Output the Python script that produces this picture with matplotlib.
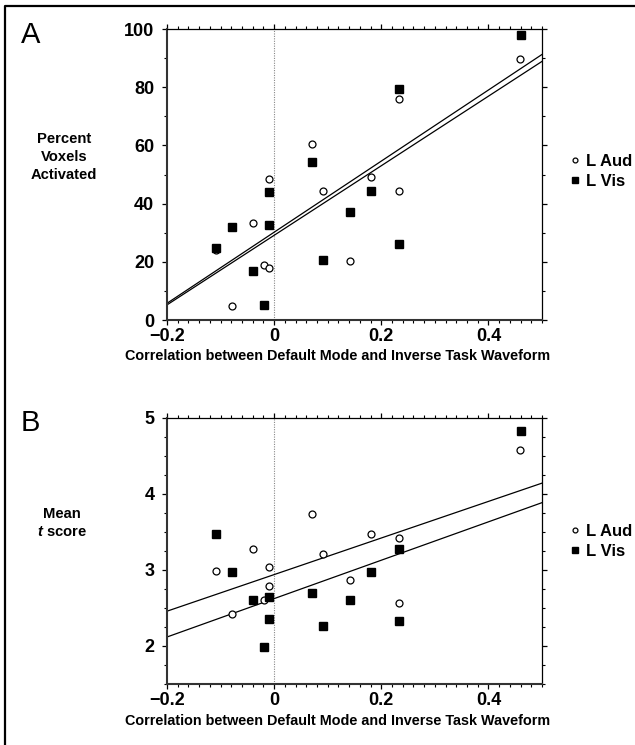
import numpy as np
import matplotlib
matplotlib.use("Agg")
import matplotlib.pyplot as plt
from matplotlib.ticker import MultipleLocator, FixedLocator, FixedFormatter
from matplotlib.lines import Line2D

plt.rcParams['font.family'] = ['Liberation Sans', 'DejaVu Sans']
plt.rcParams['mathtext.fontset'] = 'custom'
plt.rcParams['mathtext.it'] = 'Liberation Sans:italic:bold'
plt.rcParams['mathtext.rm'] = 'Liberation Sans:bold'

# ---- data ----
corr = [-0.109, -0.079, -0.039, -0.019, -0.009, -0.009, 0.071, 0.091, 0.142, 0.181, 0.2325, 0.2325, 0.459]
corr_vis = [-0.109, -0.079, -0.039, -0.019, -0.009, -0.009, 0.071, 0.091, 0.142, 0.181, 0.2325, 0.2325, 0.46]

pct_aud = [23.9, 4.8, 33.4, 18.9, 18.0, 48.5, 60.4, 44.4, 20.4, 49.3, 76.1, 44.4, 89.6]
pct_vis = [24.9, 32.0, 17.0, 5.2, 44.0, 32.7, 54.2, 20.5, 37.0, 44.4, 79.4, 26.0, 98.0]

t_aud = [2.99, 2.42, 3.27, 2.60, 3.04, 2.79, 3.74, 3.21, 2.87, 3.48, 3.42, 2.56, 4.58]
t_vis = [3.48, 2.97, 2.60, 1.99, 2.64, 2.35, 2.70, 2.26, 2.60, 2.97, 3.28, 2.33, 4.83]

x_ticks = [-0.2, 0, 0.2, 0.4]
x_ticklabels = ['\u22120.2', '0', '0.2', '0.4']
yA_ticks = [0, 20, 40, 60, 80, 100]
yB_ticks = [2, 3, 4, 5]
series_names = ['L Aud', 'L Vis']
xlabel = 'Correlation between Default Mode and Inverse Task Waveform'

W, H = 635, 745
fig = plt.figure(figsize=(W / 100, H / 100), dpi=100)

def fx(px):
    return px / W

def fy(py):
    return 1 - py / H

axA = fig.add_axes([fx(167), fy(320), fx(542) - fx(167), fy(29) - fy(320)])
axB = fig.add_axes([fx(167), fy(684), fx(542) - fx(167), fy(418) - fy(684)])

def style(ax, ylim, yticks, yminor):
    ax.set_xlim(-0.2, 0.5)
    ax.set_ylim(*ylim)
    ax.xaxis.set_major_locator(FixedLocator(x_ticks))
    ax.xaxis.set_major_formatter(FixedFormatter(x_ticklabels))
    ax.xaxis.set_minor_locator(MultipleLocator(0.02))
    ax.yaxis.set_major_locator(FixedLocator(yticks))
    ax.yaxis.set_minor_locator(MultipleLocator(yminor))
    ax.tick_params(which='major', direction='out', length=3.6, width=0.9,
                   top=True, right=True, labeltop=False, labelright=False, colors='black')
    ax.tick_params(which='minor', direction='out', length=2.2, width=0.8,
                   top=True, right=True, colors='black')
    ax.tick_params(axis='x', which='major', pad=2.0, labelsize=13)
    ax.tick_params(axis='y', which='major', pad=5.5, labelsize=13)
    for lab in ax.get_xticklabels() + ax.get_yticklabels():
        lab.set_fontweight('bold')
    for s in ['left', 'bottom']:
        ax.spines[s].set_linewidth(1.5)
        ax.spines[s].set_color('#333333')
    for s in ['top', 'right']:
        ax.spines[s].set_linewidth(0.9)
        ax.spines[s].set_color('black')
    ax.axvline(0, color='#888888', lw=0.8, ls=(0, (1, 1.2)), zorder=1)

def draw(ax, xa, ya, xv, yv, legend_y):
    xs = np.array([-0.2, 0.5])
    for x, y in [(xa, ya), (xv, yv)]:
        k, b = np.polyfit(x, y, 1)
        ax.plot(xs, k * xs + b, color='black', lw=0.9, zorder=2)
    ax.plot(xa, ya, 'o', ms=5.0, mfc='white', mec='black', mew=0.9, ls='none',
            label=series_names[0], zorder=3)
    ax.plot(xv, yv, 's', ms=5.5, mfc='black', mec='black', ls='none',
            label=series_names[1], zorder=3)
    ax.legend(loc='center left', bbox_to_anchor=(1.075, legend_y), frameon=False,
              handlelength=0.6, handletextpad=0.35, borderpad=0, borderaxespad=0,
              labelspacing=0.3, markerscale=0.7,
              prop={'family': 'Liberation Sans', 'weight': 'bold', 'size': 12})

style(axA, (0, 100), yA_ticks, 10)
style(axB, (1.5, 5), yB_ticks, 0.25)
draw(axA, corr, pct_aud, corr_vis, pct_vis, 0.51)
draw(axB, corr, t_aud, corr_vis, t_vis, 0.535)

# x-axis titles
fig.text(fx(338), fy(356), xlabel, ha='center', va='center', fontsize=10.4, fontweight='bold')
fig.text(fx(338), fy(721), xlabel, ha='center', va='center', fontsize=10.4, fontweight='bold')

# y-axis titles
fig.text(fx(64), fy(157), 'Percent\nVoxels\nActivated', ha='center', va='center',
         fontsize=10.6, fontweight='bold', linespacing=1.37)
fig.text(fx(62), fy(523), 'Mean\n$t$ score', ha='center', va='center',
         fontsize=10.6, fontweight='bold', linespacing=1.37)

# panel letters
fig.text(fx(21), fy(35), 'A', ha='left', va='center', fontsize=21)
fig.text(fx(21), fy(423), 'B', ha='left', va='center', fontsize=21)

# figure border (top and left)
fig.add_artist(Line2D([fx(5), fx(5), 1.0], [0.0, fy(6), fy(6)], transform=fig.transFigure,
                      color='black', lw=1.6))

fig.savefig('out.png', dpi=100)
